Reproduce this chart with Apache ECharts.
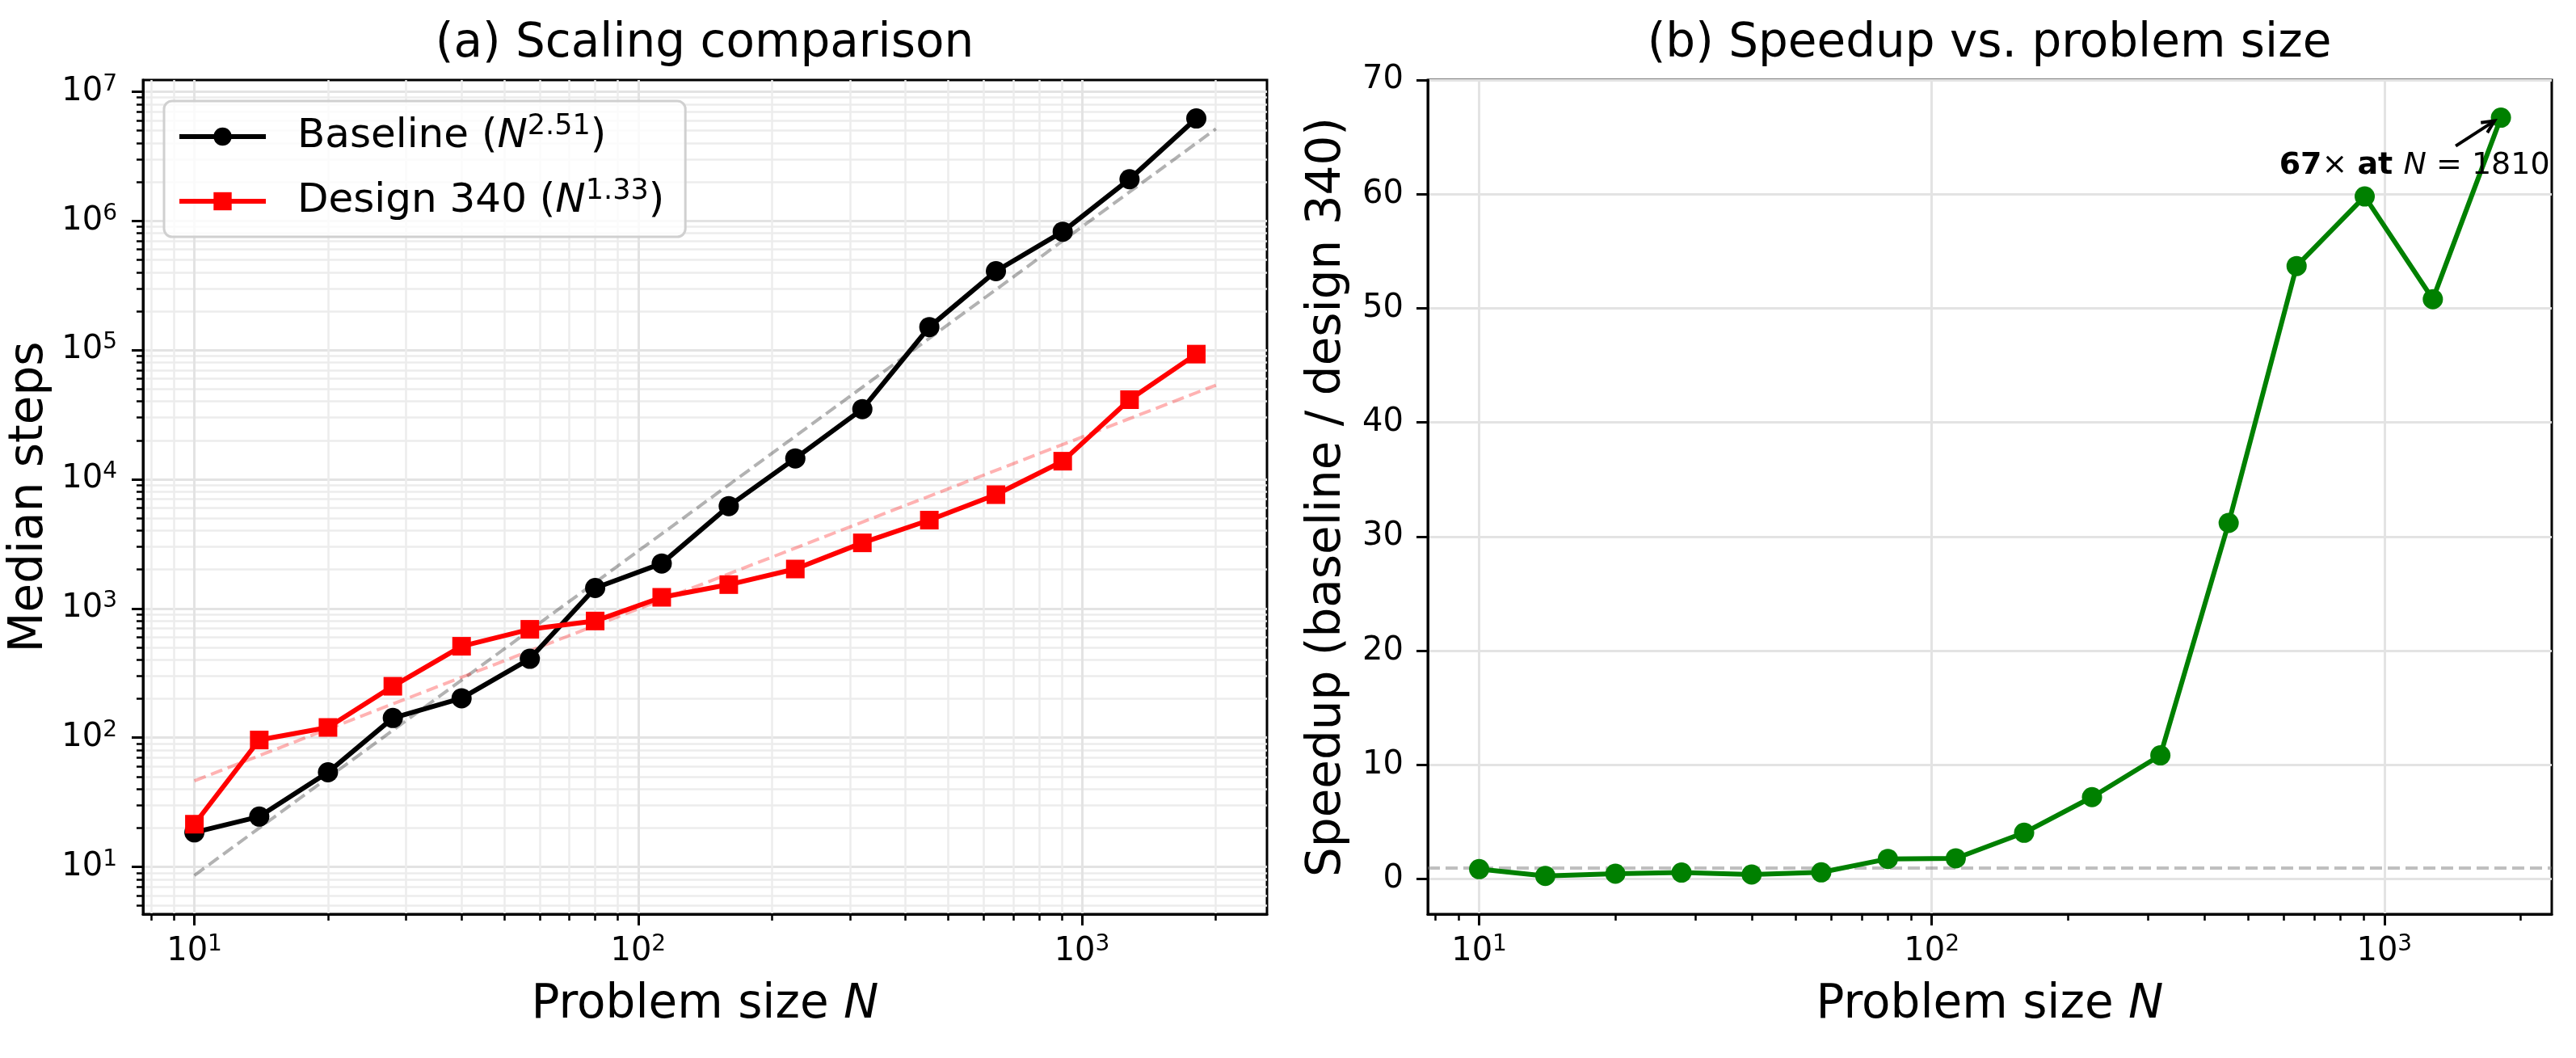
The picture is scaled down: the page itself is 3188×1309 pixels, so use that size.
<!DOCTYPE html>
<html>
<head>
<meta charset="utf-8">
<title>Scaling comparison</title>
<script src="https://cdn.jsdelivr.net/npm/echarts@6/dist/echarts.min.js"></script>
<style>
  html, body { margin: 0; padding: 0; background: #fff; }
  #chart { width: 3188px; height: 1309px; }
</style>
</head>
<body>
<div id="chart"></div>
<script>
// problem sizes N
const sizes = [10, 14, 20, 28, 40, 57, 80, 113, 160, 226, 320, 453, 640, 905, 1280, 1810];
// (a) median steps
const baselineSteps = [18.5, 24.5, 54, 142, 202, 408, 1440, 2230, 6200, 14500, 34900, 150700, 408000, 824000, 2100000, 6200000];
const designSteps = [21.4, 96, 120, 250, 510, 690, 800, 1220, 1530, 2020, 3220, 4830, 7600, 13800, 41300, 93000];
// power-law fits (straight on log-log, so the two end points are enough)
const fitSizes = [10, 2004];
const baselineFit = [8.6, 5150000];
const designFit = [46.4, 53500];
const fitExponents = [2.51, 1.33];
// (b) speedup = baseline / design 340
const speedup = [0.87, 0.28, 0.47, 0.57, 0.40, 0.59, 1.77, 1.82, 4.06, 7.18, 10.84, 31.2, 53.7, 59.8, 50.8, 66.7];

// ticks
const xMajor = [10, 100, 1000];
const yMajorA = [10, 100, 1e3, 1e4, 1e5, 1e6, 1e7];
const yTicksB = [0, 10, 20, 30, 40, 50, 60, 70];

// axis limits
const xLimA = [7.66, 2612];
const yLimA = [4.31, 1.23e7];
const xLimB = [7.7, 2344];
const yLimB = [-3.07, 70];

const FONT = 'DejaVu Sans';

function minorLog(lo, hi) {
  const out = [];
  for (let e = Math.floor(Math.log10(lo)); e <= Math.ceil(Math.log10(hi)); e++) {
    for (let m = 2; m <= 9; m++) {
      const v = m * Math.pow(10, e);
      if (v >= lo && v <= hi) out.push(v);
    }
  }
  return out;
}

const pairs = (xs, ys) => xs.map((x, i) => [x, ys[i]]);

const tickRich = {
  b: { fontFamily: FONT, fontSize: 40, lineHeight: 46, color: '#000' },
  s: { fontFamily: FONT, fontSize: 28, lineHeight: 30, verticalAlign: 'top', color: '#000' }
};
const powLabel = v => '{b|10}{s|' + Math.round(Math.log10(v)) + '}';

const nameRich = {
  t: { fontFamily: FONT, fontSize: 58, lineHeight: 66, color: '#000' },
  i: { fontFamily: FONT, fontSize: 58, lineHeight: 66, fontStyle: 'italic', color: '#000' }
};

const majorGrid = { show: true, lineStyle: { color: '#e3e3e3', width: 3 } };
const minorGrid = { show: true, lineStyle: { color: '#ececec', width: 2.5 } };
const majorTick = vals => ({ show: true, customValues: vals, length: 14, lineStyle: { color: '#000', width: 3 } });
const minorTick = vals => ({ show: true, customValues: vals, length: 8, lineStyle: { color: '#000', width: 2.5 } });
const spine = { show: true, onZero: false, lineStyle: { color: '#000', width: 3 } };

function minorAxis(type, gridIndex, lim, position, withGrid) {
  return {
    type: type, gridIndex: gridIndex, min: lim[0], max: lim[1], position: position,
    axisLine: { show: false, onZero: false },
    axisLabel: { show: false },
    axisTick: minorTick(minorLog(lim[0], lim[1])),
    splitLine: withGrid ? minorGrid : { show: false }
  };
}

const legendLabels = {
  'Baseline': 'Baseline ({i|N}{s|' + fitExponents[0] + '})',
  'Design 340': 'Design 340 ({i|N}{s|' + fitExponents[1] + '})'
};

const last = sizes.length - 1;

const option = {
  animation: false,
  backgroundColor: '#fff',
  textStyle: { fontFamily: FONT },
  title: [
    { text: '(a) Scaling comparison', left: 872, top: 26, textAlign: 'center', padding: 0,
      textStyle: { fontFamily: FONT, fontSize: 58, fontWeight: 'normal', color: '#000' } },
    { text: '(b) Speedup vs. problem size', left: 2462, top: 26, textAlign: 'center', padding: 0,
      textStyle: { fontFamily: FONT, fontSize: 58, fontWeight: 'normal', color: '#000' } }
  ],
  grid: [
    { left: 177, top: 99, width: 1391, height: 1032, show: true, borderColor: '#000', borderWidth: 3, backgroundColor: 'transparent' },
    { left: 1767, top: 99, width: 1391, height: 1032, show: true, borderColor: '#000', borderWidth: 3, backgroundColor: 'transparent' }
  ],
  legend: {
    data: ['Baseline', 'Design 340'],
    orient: 'vertical', left: 203, top: 125,
    padding: [14, 26, 14, 16],
    itemWidth: 107, itemHeight: 28, itemGap: 20,
    lineStyle: { width: 6 },
    backgroundColor: 'rgba(255,255,255,0.8)', borderColor: '#d0d0d0', borderWidth: 3, borderRadius: 10,
    formatter: name => legendLabels[name],
    textStyle: {
      fontFamily: FONT, fontSize: 50, lineHeight: 60, color: '#000', padding: [0, 0, 0, 34],
      rich: {
        i: { fontFamily: FONT, fontSize: 50, lineHeight: 60, fontStyle: 'italic', color: '#000' },
        s: { fontFamily: FONT, fontSize: 35, lineHeight: 32, verticalAlign: 'top', color: '#000' }
      }
    }
  },
  xAxis: [
    {
      type: 'log', logBase: 10, gridIndex: 0, min: xLimA[0], max: xLimA[1], position: 'bottom',
      name: '{t|Problem size }{i|N}', nameLocation: 'middle', nameGap: 80, nameTextStyle: { rich: nameRich },
      axisLine: spine, axisTick: majorTick(xMajor),
      axisLabel: { customValues: xMajor, formatter: powLabel, rich: tickRich, margin: 24 },
      splitLine: majorGrid
    },
    minorAxis('log', 0, xLimA, 'bottom', true),
    {
      type: 'log', logBase: 10, gridIndex: 1, min: xLimB[0], max: xLimB[1], position: 'bottom',
      name: '{t|Problem size }{i|N}', nameLocation: 'middle', nameGap: 80, nameTextStyle: { rich: nameRich },
      axisLine: spine, axisTick: majorTick(xMajor),
      axisLabel: { customValues: xMajor, formatter: powLabel, rich: tickRich, margin: 24 },
      splitLine: majorGrid
    },
    minorAxis('log', 1, xLimB, 'bottom', false)
  ],
  yAxis: [
    {
      type: 'log', logBase: 10, gridIndex: 0, min: yLimA[0], max: yLimA[1], position: 'left',
      name: 'Median steps', nameLocation: 'middle', nameGap: 107,
      nameTextStyle: { fontFamily: FONT, fontSize: 58, lineHeight: 66, color: '#000' },
      axisLine: spine, axisTick: majorTick(yMajorA),
      axisLabel: { customValues: yMajorA, formatter: powLabel, rich: tickRich, margin: 32 },
      splitLine: majorGrid
    },
    minorAxis('log', 0, yLimA, 'left', true),
    {
      type: 'value', gridIndex: 1, min: yLimB[0], max: yLimB[1], position: 'left',
      name: 'Speedup (baseline / design 340)', nameLocation: 'middle', nameGap: 91,
      nameTextStyle: { fontFamily: FONT, fontSize: 58, lineHeight: 66, color: '#000' },
      axisLine: spine, axisTick: majorTick(yTicksB),
      axisLabel: { customValues: yTicksB, fontFamily: FONT, fontSize: 40, color: '#000', margin: 30 },
      splitLine: majorGrid
    }
  ],
  series: [
    {
      name: 'Baseline fit', type: 'line', xAxisIndex: 0, yAxisIndex: 0, z: 1, silent: true,
      data: pairs(fitSizes, baselineFit), symbol: 'none',
      lineStyle: { color: 'rgba(0,0,0,0.3)', width: 4, type: [15, 7] }
    },
    {
      name: 'Design fit', type: 'line', xAxisIndex: 0, yAxisIndex: 0, z: 1, silent: true,
      data: pairs(fitSizes, designFit), symbol: 'none',
      lineStyle: { color: 'rgba(255,0,0,0.3)', width: 4, type: [15, 7] }
    },
    {
      name: 'Baseline', type: 'line', xAxisIndex: 0, yAxisIndex: 0, z: 3,
      data: pairs(sizes, baselineSteps), symbol: 'circle', symbolSize: 25, showAllSymbol: true,
      itemStyle: { color: '#000' }, lineStyle: { color: '#000', width: 6 }
    },
    {
      name: 'Design 340', type: 'line', xAxisIndex: 0, yAxisIndex: 0, z: 4,
      data: pairs(sizes, designSteps), symbol: 'rect', symbolSize: 23, showAllSymbol: true,
      itemStyle: { color: '#ff0000' }, lineStyle: { color: '#ff0000', width: 6 }
    },
    {
      name: 'Speedup', type: 'line', xAxisIndex: 2, yAxisIndex: 2, z: 3,
      data: pairs(sizes, speedup), symbol: 'circle', symbolSize: 25, showAllSymbol: true,
      itemStyle: { color: '#008000' }, lineStyle: { color: '#008000', width: 6 },
      markLine: {
        silent: true, symbol: 'none', z: 1, label: { show: false },
        lineStyle: { color: 'rgba(128,128,128,0.5)', width: 4, type: [15, 7] },
        data: [{ yAxis: 1 }]
      }
    },
    {
      name: 'Annotation', type: 'custom', xAxisIndex: 2, yAxisIndex: 2, z: 10, silent: true,
      data: [[sizes[last], speedup[last]]],
      renderItem: function (params, api) {
        const p = api.coord([api.value(0), api.value(1)]);
        const tip = [p[0] - 8, p[1] + 4];
        const tail = [p[0] - 56, p[1] + 35];
        const ang = Math.atan2(tail[1] - tip[1], tail[0] - tip[0]);
        const arm = a => [tip[0] + 17 * Math.cos(a), tip[1] + 17 * Math.sin(a)];
        const label = '{b|' + Math.round(api.value(1)) + '}{n|× }{b|at }{i|N}{n| = ' + api.value(0) + '}';
        return {
          type: 'group',
          children: [
            { type: 'line', shape: { x1: tail[0], y1: tail[1], x2: tip[0], y2: tip[1] },
              style: { stroke: '#000', lineWidth: 4 } },
            { type: 'polyline', shape: { points: [arm(ang - 0.45), tip, arm(ang + 0.45)] },
              style: { stroke: '#000', lineWidth: 4, fill: null } },
            { type: 'text', x: p[0] - 107, y: p[1] + 60,
              style: {
                legacy: false,
                text: label, align: 'center', verticalAlign: 'middle',
                rich: {
                  b: { fontFamily: FONT, fontSize: 38, fontWeight: 'bold', fill: '#000' },
                  n: { fontFamily: FONT, fontSize: 38, fill: '#000' },
                  i: { fontFamily: FONT, fontSize: 38, fontStyle: 'italic', fill: '#000' }
                }
              } }
          ]
        };
      }
    }
  ]
};

const chart = echarts.init(document.getElementById('chart'));
chart.setOption(option);
</script>
</body>
</html>
